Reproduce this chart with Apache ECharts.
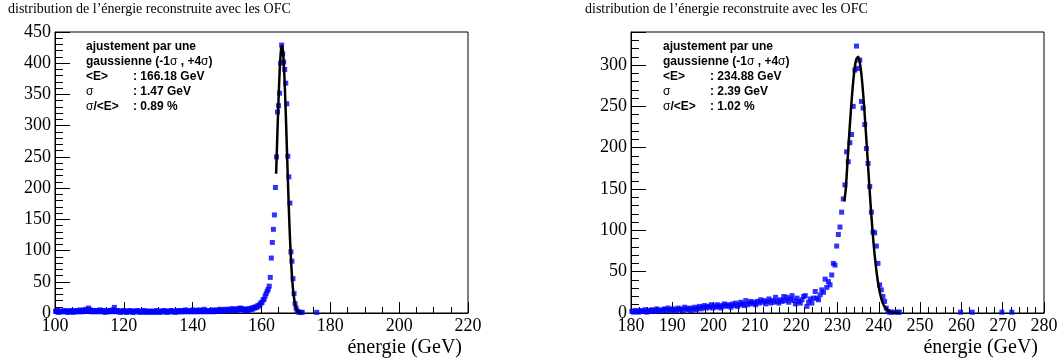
<!DOCTYPE html>
<html><head><meta charset="utf-8">
<script src="https://cdn.jsdelivr.net/npm/echarts@6/dist/echarts.min.js"></script>
<style>html,body{margin:0;padding:0;background:#fff}#c{width:1064px;height:364px}</style>
</head><body><div id="c"></div>
<script>
// ---------------- data ----------------
const titleText = "distribution de l\u2019\u00e9nergie reconstruite avec les OFC";
const xTitle = "\u00e9nergie (GeV)";

const leftXRange = [100, 220];
const leftYRange = [0, 450];
const leftBinStart = 100, leftBinWidth = 0.3;
const leftCounts = [
 3,2,4,1,3,2,0,3,2,4, 2,3,1,3,2,4,3,1,2,3, 4,2,3,2,5,3,2,4,3,6, 3,4,8,3,5,2,4,3,2,3,
 4,2,3,5,3,2,4,3,1,3, 2,4,3,2,3,5,3,9,2,3, 4,2,3,1,3,2,4,3,2,1, 3,2,4,2,3,1,2,3,2,4,
 2,3,1,2,3,2,4,1,2,3, 2,1,3,2,2,3,1,2,4,2, 3,1,2,3,2,4,2,3,1,2, 3,2,4,2,3,2,1,3,2,4,
 2,3,2,4,3,2,5,3,2,3, 4,2,3,5,2,3,4,2,3,5, 3,2,4,3,6,2,3,4,3,2, 4,3,5,2,4,3,5,3,4,6,
 3,5,4,3,6,4,5,3,6,4, 5,7,4,6,5,4,7,5,6,8, 5,7,6,
 5,3,6,4,7,5,6,8,6,9, 8,10,9,12,11,14,16,17,21,22, 27,31,35,38,43,57,88,113,134,157,
 201,250,322,332,352,400,429,415,402,390, 368,335,251,218,176,98,83,55,31,15,
 8,3,2,1,0,1,1, 0,0,0,0,0,0,0,0,0,0,0,0,0, 1
];
const leftFitE = [164.25,164.5,164.75,165,165.25,165.5,165.75,166,166.25,166.5,166.75,167,167.25,167.5,167.75,168,168.25,168.5,168.75,169,169.25,169.5,169.75,170,170.25,170.5,170.75,171,171.25,171.5,171.75];
const leftFitY = [223,267,310,350,384,410,425,428,418,397,366,328,286,242,199,159,123,93,68,48,33.4,22.4,14.6,9.2,5.7,3.4,2.0,1.1,0.6,0.33,0.17];
const leftInfoLabels = ["{b|ajustement par une}", "{b|gaussienne (-1}{r|\u03c3}{b| , +4}{r|\u03c3}{b|)}", "{b|<E>}", "{r|\u03c3}", "{r|\u03c3}{b|/<E>}"];
const leftInfoValues = ["", "", ": 166.18 GeV", ": 1.47 GeV", ": 0.89 %"];

const rightXRange = [180, 280];
const rightYRange = [0, 340];
const rightBinStart = 180, rightBinWidth = 0.4;
const rightCounts = [
 2,1,3,2,1,3,2,2,4,1, 3,2,4,3,2,5,3,2,4,3, 5,3,6,4,3,5,4,3,6,4, 5,3,7,5,4,6,3,5,7,4,
 6,8,5,7,9,6,8,7,10,6, 9,7,10,8,6,9,11,8,10,9, 7,11,9,12,8,10,13,11,9,15, 10,12,14,11,13,10,14,12,16,13,
 15,11,14,17,12,15,13,19,14,12, 16,14,20,15,19,13,17,21,15,11, 18,14,12,16,20,21,8,13,17,12, 18,26,18,16,22,28,25,41,31,38,
 34,46,60,58,81,95,104,122,138,155, 195,183,206,216,250,294,323,296,306,256, 248,228,199,181,153,122,98,97,81,60, 34,28,20,14,6,2,1,1,0,1,
 0,1,1,0,0,0,0,0,0,0, 0,0,0,0,0,0,0,0,0,0, 0,0,0,0,0,0,0,0,0,0, 0,0,0,0,0,0,0,0,0,1,
 0,0,0,0,0,0,1,0,0,0, 0,0,0,0,0,0,0,0,0,0, 0,0,0,0,1,0,0,0,0,0, 1
];
const rightFitE = [231.65,232,232.5,233,233.5,234,234.5,235,235.5,236,236.5,237,237.5,238,238.5,239,239.5,240,240.5,241,241.5,242,242.5,243,243.5,244,244.5,245];
const rightFitY = [135,150,189,228,262,290,306,310,300,278,246,209,170,132,98,70,48,31,19.5,11.7,6.7,3.7,1.9,1.0,0.46,0.21,0.09,0.04];
const rightInfoLabels = leftInfoLabels;
const rightInfoValues = ["", "", ": 234.88 GeV", ": 2.39 GeV", ": 1.02 %"];

// ---------------- chart ----------------
function points(counts, start, width) {
  const out = [];
  counts.forEach((v, k) => { if (v > 0) out.push([start + (k + 0.5) * width, v]); });
  return out;
}
function zip(a, b) { return a.map((x, i) => [x, b[i]]); }

const serif = '"Liberation Serif", "Times New Roman", serif';
const sans = '"Liberation Sans", Arial, sans-serif';

const grids = [
  {left: 55, top: 32, width: 413, height: 281},
  {left: 631, top: 32, width: 413, height: 281}
];

function xAxis(gi, range, interval, minorSplit) {
  return {
    type: 'value', gridIndex: gi, min: range[0], max: range[1], interval: interval,
    axisLine: {show: true, onZero: false, lineStyle: {color: '#000', width: 1}},
    axisTick: {show: true, inside: true, length: 11, lineStyle: {color: '#000'}},
    minorTick: {show: true, splitNumber: minorSplit, length: 6, lineStyle: {color: '#000'}},
    splitLine: {show: false},
    axisLabel: {color: '#000', fontFamily: serif, fontSize: 18, margin: 4}
  };
}
function yAxis(gi, range, interval) {
  return {
    type: 'value', gridIndex: gi, min: range[0], max: range[1], interval: interval,
    axisLine: {show: true, lineStyle: {color: '#000', width: 1}},
    axisTick: {show: true, inside: true, length: 15, lineStyle: {color: '#000'}},
    minorTick: {show: true, splitNumber: 5, length: 8, lineStyle: {color: '#000'}},
    splitLine: {show: false},
    axisLabel: {color: '#000', fontFamily: serif, fontSize: 18, margin: 4, showMaxLabel: range[1] % interval === 0}
  };
}

const rich = {
  b: {font: 'bold 12px ' + sans, fill: '#000'},
  r: {font: '12px ' + sans, fill: '#000'}
};
function infoTexts(x0, x1, y0, dy, labels, values) {
  const els = [];
  labels.forEach((t, i) => {
    els.push({type: 'text', x: x0, y: y0 + i * dy, z: 100,
      style: {text: t, rich: rich, font: 'bold 12px ' + sans, fill: '#000', verticalAlign: 'middle'}});
    if (values[i]) els.push({type: 'text', x: x1, y: y0 + i * dy, z: 100,
      style: {text: values[i], font: 'bold 12px ' + sans, fill: '#000', verticalAlign: 'middle'}});
  });
  return els;
}

const graphics = [
  {type: 'text', x: 8, y: 9, style: {text: titleText, font: '14px ' + serif, fill: '#000', verticalAlign: 'middle'}},
  {type: 'text', x: 585, y: 9, style: {text: titleText, font: '14px ' + serif, fill: '#000', verticalAlign: 'middle'}},
  {type: 'text', x: 462, y: 348, style: {text: xTitle, font: '20px ' + serif, fill: '#000', align: 'right', verticalAlign: 'middle'}},
  {type: 'text', x: 1038, y: 348, style: {text: xTitle, font: '20px ' + serif, fill: '#000', align: 'right', verticalAlign: 'middle'}},
  ...infoTexts(86, 133, 47, 15, leftInfoLabels, leftInfoValues),
  ...infoTexts(663, 710, 47, 15, rightInfoLabels, rightInfoValues)
];

const chart = echarts.init(document.getElementById('c'), null, {renderer: 'canvas'});
chart.setOption({
  animation: false,
  backgroundColor: '#fff',
  grid: grids.map(g => Object.assign({show: true, borderColor: '#000', borderWidth: 1, backgroundColor: 'transparent'}, g)),
  xAxis: [xAxis(0, leftXRange, 20, 4), xAxis(1, rightXRange, 10, 5)],
  yAxis: [yAxis(0, leftYRange, 50), yAxis(1, rightYRange, 50)],
  series: [
    {type: 'scatter', xAxisIndex: 0, yAxisIndex: 0, data: points(leftCounts, leftBinStart, leftBinWidth),
     symbol: 'rect', symbolSize: 5, itemStyle: {color: '#0000ff'}, z: 2},
    {type: 'line', xAxisIndex: 0, yAxisIndex: 0, data: zip(leftFitE, leftFitY), smooth: 0.3,
     showSymbol: false, lineStyle: {color: '#000', width: 2.5}, z: 3},
    {type: 'scatter', xAxisIndex: 1, yAxisIndex: 1, data: points(rightCounts, rightBinStart, rightBinWidth),
     symbol: 'rect', symbolSize: 5, itemStyle: {color: '#0000ff'}, z: 2},
    {type: 'line', xAxisIndex: 1, yAxisIndex: 1, data: zip(rightFitE, rightFitY), smooth: 0.3,
     showSymbol: false, lineStyle: {color: '#000', width: 2.5}, z: 3}
  ],
  graphic: graphics
});
</script>
</body></html>
